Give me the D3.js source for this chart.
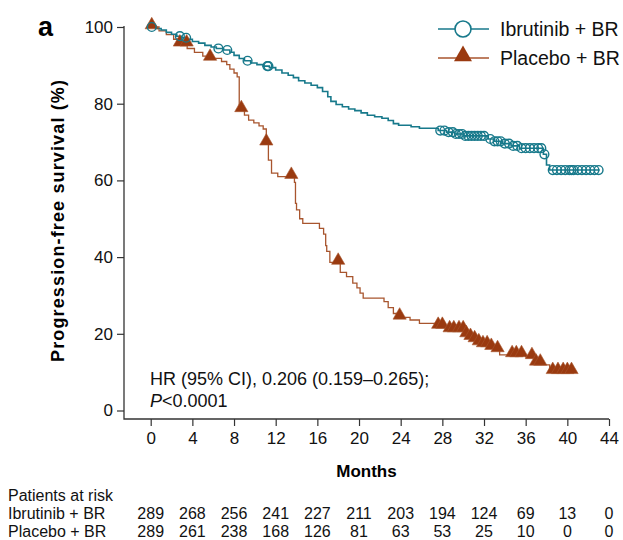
<!DOCTYPE html>
<html>
<head>
<meta charset="utf-8">
<script src="https://cdn.jsdelivr.net/npm/d3@7"></script>
<style>
  body { margin: 0; background: #fff; }
  svg { font-family: "Liberation Sans", Arial, sans-serif; }
  .axis text { font-size: 17px; fill: #111; }
  .axis line { stroke: #333; stroke-width: 1.2; }
</style>
</head>
<body>
<div id="chart"></div>
<script>
// Kaplan-Meier steps (months, % progression-free)
const ibrTime = [0, 0.5, 1.0, 1.5, 2.0, 2.5, 3.0, 3.5, 4.0, 4.6, 5.2, 5.8, 6.3, 7.0, 7.6, 8.0, 8.5, 9.0, 9.6,
  10.2, 10.8, 11.4, 12.0, 12.6, 13.2, 13.7, 14.2, 14.8, 15.4, 16.0, 16.5, 17.0, 17.3, 17.8, 18.4, 19.0, 19.6,
  20.2, 20.8, 21.5, 22.2, 22.8, 23.3, 23.8, 25.0, 25.8, 27.6, 28.4, 29.2, 30.0, 32.4, 33.0, 33.8, 34.6, 35.4,
  37.7, 38.0, 38.3];
const ibrSurv = [100, 99.6, 99.2, 98.6, 98.1, 97.6, 97.2, 96.8, 96.2, 95.8, 95.2, 94.8, 94.4, 94.0, 93.4, 92.6, 91.8, 91.2, 90.6,
  90.2, 89.8, 89.4, 88.8, 88.0, 87.4, 86.8, 86.0, 85.4, 84.8, 84.2, 83.2, 81.8, 80.6, 79.8, 79.2, 78.6, 78.2,
  77.6, 77.0, 76.6, 76.2, 75.6, 74.8, 74.4, 74.0, 73.6, 73.0, 72.6, 72.1, 71.6, 70.8, 70.2, 69.6, 69.0, 68.4,
  66.8, 64.0, 62.7];
const ibrEnd = 43.1;
const ibrCensor = [0.1, 2.8, 3.4, 6.5, 7.35, 9.3, 11.2, 11.3, 27.8, 28.2, 28.6, 29.0, 29.3, 29.6, 29.9, 30.2, 30.5,
  30.8, 31.1, 31.4, 31.7, 32.0, 32.6, 33.0, 33.3, 33.6, 34.0, 34.4, 34.8, 35.2, 35.6, 36.0, 36.4, 36.8, 37.2, 37.5,
  37.8, 38.6, 39.0, 39.4, 39.8, 40.2, 40.4, 40.6, 41.0, 41.4, 41.8, 42.2, 42.6, 43.0];

const pboTime = [0, 0.8, 1.5, 2.2, 2.8, 3.5, 4.2, 5.0, 5.7, 6.8, 7.3, 7.6, 8.0, 8.3, 8.5, 9.0, 9.4, 9.9, 10.4, 10.8,
  11.1, 11.3, 11.6, 12.2, 13.8, 13.9, 14.0, 14.3, 14.6, 16.2, 16.6, 16.8, 16.9, 17.2, 18.2, 18.8, 19.4, 19.8, 20.1,
  20.4, 22.4, 22.8, 23.3, 23.6, 24.9, 25.8, 27.6, 28.7, 30.3, 30.7, 31.0, 31.5, 31.9, 32.6, 33.2, 33.5, 36.0, 37.0,
  37.7, 38.3];
const pboSurv = [100, 99.0, 98.0, 96.8, 95.5, 94.4, 93.4, 92.4, 91.8, 91.0, 90.2, 89.0, 88.0, 87.0, 78.4, 77.0, 75.7, 75.0, 74.2, 73.4,
  69.7, 65.3, 61.9, 61.0, 59.5, 54.0, 52.3, 50.0, 48.8, 47.5, 46.0, 43.0, 41.5, 38.6, 36.0, 34.9, 33.2, 32.0, 30.6,
  29.3, 28.4, 26.8, 25.3, 24.3, 23.6, 22.7, 21.9, 21.0, 19.7, 19.0, 18.4, 17.6, 17.1, 16.4, 15.8, 14.5, 14.0, 12.3,
  11.9, 10.1];
const pboEnd = 40.6;
const pboCensor = [0.1, 2.8, 3.45, 5.7, 8.7, 11.1, 13.5, 18.0, 23.9, 27.6, 28.0, 28.7, 29.1, 29.6, 30.0, 30.3, 30.7,
  31.1, 31.5, 31.9, 32.3, 32.7, 33.3, 34.7, 35.1, 35.6, 36.6, 37.0, 37.4, 38.6, 39.1, 39.6, 40.0, 40.4];

const xTicks = [0, 4, 8, 12, 16, 20, 24, 28, 32, 36, 40, 44];
const yTicks = [0, 20, 40, 60, 80, 100];
const seriesNames = ["Ibrutinib + BR", "Placebo + BR"];
const ibrAtRisk = [289, 268, 256, 241, 227, 211, 203, 194, 124, 69, 13, 0];
const pboAtRisk = [289, 261, 238, 168, 126, 81, 63, 53, 25, 10, 0, 0];

const teal = "#17798b";
const brownLine = "#a8552e";
const brownFill = "#9a3a10";

const W = 623, H = 540;
const axisX = 124, axisY = 419;

const svg = d3.select("#chart").append("svg")
  .attr("width", W)
  .attr("height", H);

const x = d3.scaleLinear().domain([0, 44]).range([150.7, 609]);
const y = d3.scaleLinear().domain([0, 100]).range([410.5, 27]);

// axes
const yAxis = svg.append("g")
  .attr("class", "axis")
  .attr("transform", "translate(" + axisX + ",0)")
  .call(d3.axisLeft(y).tickValues(yTicks).tickSize(7).tickPadding(4).tickSizeOuter(0));
yAxis.select(".domain").remove();

const xAxis = svg.append("g")
  .attr("class", "axis")
  .attr("transform", "translate(0," + axisY + ")")
  .call(d3.axisBottom(x).tickValues(xTicks).tickSize(7).tickPadding(6).tickSizeOuter(0));
xAxis.select(".domain").remove();

svg.append("path")
  .attr("d", "M" + axisX + "," + (y(100) - 1) + "V" + axisY + "H" + x(44))
  .attr("fill", "none")
  .attr("stroke", "#333")
  .attr("stroke-width", 1.3);

// axis titles
svg.append("text")
  .attr("transform", "translate(64," + 221 + ") rotate(-90)")
  .attr("text-anchor", "middle")
  .attr("font-weight", "bold")
  .attr("font-size", 18)
  .attr("textLength", 282)
  .attr("lengthAdjust", "spacing")
  .text("Progression-free survival (%)");

svg.append("text")
  .attr("x", (axisX + x(44)) / 2)
  .attr("y", 477)
  .attr("text-anchor", "middle")
  .attr("font-weight", "bold")
  .attr("font-size", 17)
  .text("Months");

svg.append("text")
  .attr("x", 38)
  .attr("y", 36)
  .attr("font-weight", "bold")
  .attr("font-size", 27)
  .text("a");

// curves
function steps(times, surv, end) {
  const pts = times.map(function (t, i) { return [t, surv[i]]; });
  pts.push([end, surv[surv.length - 1]]);
  return pts;
}

function survAt(times, surv, t) {
  let v = surv[0];
  for (let i = 0; i < times.length; i++) {
    if (times[i] <= t) v = surv[i];
  }
  return v;
}

const line = d3.line()
  .x(function (d) { return x(d[0]); })
  .y(function (d) { return y(d[1]); })
  .curve(d3.curveStepAfter);

svg.append("path")
  .attr("d", line(steps(pboTime, pboSurv, pboEnd)))
  .attr("fill", "none")
  .attr("stroke", brownLine)
  .attr("stroke-width", 1.3);

svg.append("path")
  .attr("d", line(steps(ibrTime, ibrSurv, ibrEnd)))
  .attr("fill", "none")
  .attr("stroke", teal)
  .attr("stroke-width", 1.6);

const tri = d3.symbol().type(d3.symbolTriangle);

svg.append("g").selectAll("path")
  .data(pboCensor)
  .join("path")
  .attr("transform", function (t) {
    return "translate(" + x(t) + "," + (y(survAt(pboTime, pboSurv, t)) - 2) + ")";
  })
  .attr("d", tri.size(76)())
  .attr("fill", brownFill)
  .attr("stroke", brownLine)
  .attr("stroke-width", 0.6);

svg.append("g").selectAll("circle")
  .data(ibrCensor)
  .join("circle")
  .attr("cx", function (t) { return x(t); })
  .attr("cy", function (t) { return y(survAt(ibrTime, ibrSurv, t)); })
  .attr("r", 4.4)
  .attr("fill", "none")
  .attr("stroke", teal)
  .attr("stroke-width", 1.4);

// statistics note
const note = svg.append("g").attr("font-size", 18).attr("fill", "#111");
note.append("text")
  .attr("x", 150)
  .attr("y", 385)
  .text("HR (95% CI), 0.206 (0.159\u20130.265);");
const pLine = note.append("text")
  .attr("x", 150)
  .attr("y", 407);
pLine.append("tspan").attr("font-style", "italic").text("P");
pLine.append("tspan").text("<0.0001");

// legend
const legend = svg.append("g");
const legendRows = [
  { name: seriesNames[0], y: 29, color: teal },
  { name: seriesNames[1], y: 58, color: brownLine }
];
legend.selectAll("line")
  .data(legendRows)
  .join("line")
  .attr("x1", 438).attr("x2", 489)
  .attr("y1", function (d) { return d.y; })
  .attr("y2", function (d) { return d.y; })
  .attr("stroke", function (d) { return d.color; })
  .attr("stroke-width", 1.6);
legend.append("circle")
  .attr("cx", 463).attr("cy", legendRows[0].y).attr("r", 8)
  .attr("fill", "#fff").attr("stroke", teal).attr("stroke-width", 1.6);
legend.append("path")
  .attr("transform", "translate(463," + (legendRows[1].y - 2) + ")")
  .attr("d", tri.size(140)())
  .attr("fill", brownFill);
legend.selectAll("text")
  .data(legendRows)
  .join("text")
  .attr("x", 500)
  .attr("y", function (d) { return d.y + 7; })
  .attr("font-size", 19.5)
  .attr("fill", "#111")
  .text(function (d) { return d.name; });

// patients at risk table
const table = svg.append("g").attr("font-size", 16).attr("fill", "#111");
table.append("text").attr("x", 8).attr("y", 501).text("Patients at risk");
const rows = [
  { name: seriesNames[0], values: ibrAtRisk, y: 519 },
  { name: seriesNames[1], values: pboAtRisk, y: 537 }
];
rows.forEach(function (r) {
  table.append("text").attr("x", 8).attr("y", r.y).text(r.name);
  table.append("g").selectAll("text")
    .data(r.values)
    .join("text")
    .attr("x", function (d, i) { return x(xTicks[i]); })
    .attr("y", r.y)
    .attr("text-anchor", "middle")
    .text(function (d) { return d; });
});
</script>
</body>
</html>
